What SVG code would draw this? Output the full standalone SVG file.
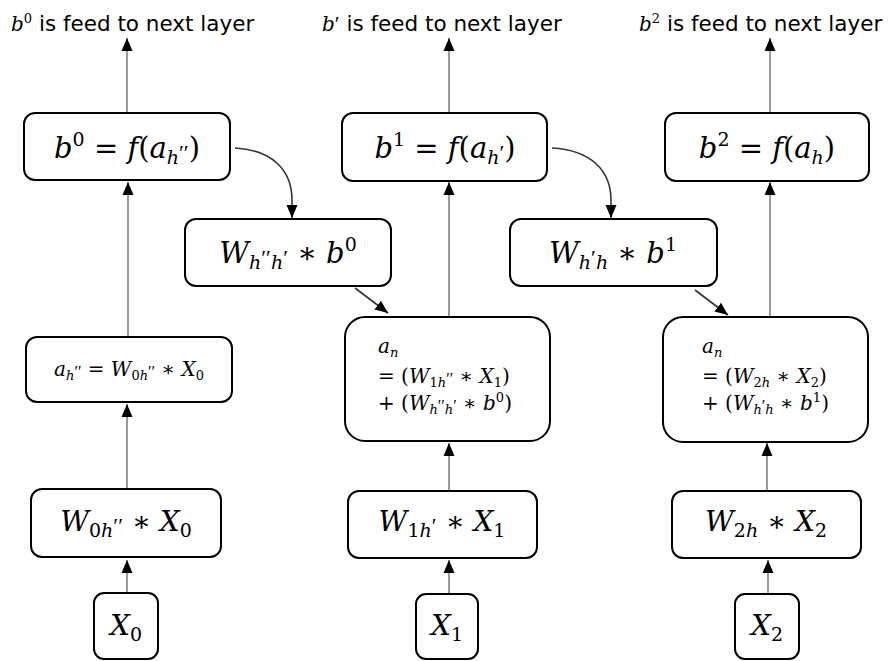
<svg xmlns="http://www.w3.org/2000/svg" width="894" height="661" viewBox="0 0 894 661">
<defs>
<marker id="ah" markerUnits="userSpaceOnUse" markerWidth="14" markerHeight="14" viewBox="0 0 14 14" refX="13" refY="7" orient="auto">
<path d="M0,1.5 L13,7 L0,12.5 Z" fill="#000"/>
</marker>
</defs>
<style>
rect.box{fill:#fff;stroke:#000;stroke-width:2}
.conn line,.conn path{stroke:#7f7f7f;stroke-width:1.6;fill:none;marker-end:url(#ah)}
.conn .dark{stroke:#333}
.m{font-family:"DejaVu Serif","Liberation Serif",serif;fill:#000}
.i{font-style:italic}
.pr{font-family:"Liberation Serif",serif}
.lbl{font-family:"DejaVu Sans","Verdana",sans-serif;font-size:21.5px;fill:#000}
</style>
<rect width="894" height="661" fill="#fff"/>

<g id="label0"><text x="11" y="31"><tspan class="m i" font-size="20">b</tspan><tspan class="m" font-size="13" dy="-8">0</tspan><tspan class="lbl" dy="8"> is feed to next layer</tspan></text></g>
<g id="label1"><text x="322" y="31"><tspan class="m i" font-size="20">b</tspan><tspan class="m pr" font-size="22">′</tspan><tspan class="lbl"> is feed to next layer</tspan></text></g>
<g id="label2"><text x="639" y="31"><tspan class="m i" font-size="20">b</tspan><tspan class="m" font-size="13" dy="-8">2</tspan><tspan class="lbl" dy="8"> is feed to next layer</tspan></text></g>

<g class="conn">
<line x1="127" y1="113" x2="127" y2="38"/>
<line x1="128" y1="337" x2="128" y2="182"/>
<line x1="127" y1="489" x2="127" y2="404"/>
<line x1="127" y1="593" x2="127" y2="560"/>
<path class="dark" d="M235,148 C272,150 292,170 292,200 L292,218"/>
<line class="dark" x1="355" y1="288" x2="388" y2="313"/>
<line x1="449" y1="113" x2="449" y2="38"/>
<line x1="449" y1="317" x2="449" y2="182"/>
<line x1="449" y1="491" x2="449" y2="443"/>
<line x1="449" y1="594" x2="449" y2="560"/>
<path class="dark" d="M552,148 C590,150 611,170 611,200 L611,218"/>
<line class="dark" x1="695" y1="290" x2="728" y2="315"/>
<line x1="770" y1="113" x2="770" y2="38"/>
<line x1="770" y1="317" x2="770" y2="182"/>
<line x1="767" y1="491" x2="767" y2="443"/>
<line x1="768" y1="594" x2="768" y2="560"/>
</g>

<g id="b0">
<rect class="box" x="24" y="113" width="206" height="67" rx="11"/>
<text class="m" x="127" y="158" text-anchor="middle" font-size="29"><tspan class="i">b</tspan><tspan font-size="19" dy="-12">0</tspan><tspan dy="12"> = </tspan><tspan class="i">f</tspan>(<tspan class="i">a</tspan><tspan class="i" font-size="19" dy="6">h</tspan><tspan class="pr" font-size="22" dy="-4">′′</tspan><tspan dy="-2">)</tspan></text>
</g>
<g id="ah2">
<rect class="box" x="26" y="337" width="206" height="65" rx="11"/>
<text class="m" x="129" y="376" text-anchor="middle" font-size="20"><tspan class="i">a</tspan><tspan class="i" font-size="13" dy="4">h</tspan><tspan class="pr" font-size="16" dy="-3">′′</tspan><tspan dy="-1"> = </tspan><tspan class="i">W</tspan><tspan font-size="13" dy="4">0</tspan><tspan class="i" font-size="13">h</tspan><tspan class="pr" font-size="16" dy="-3">′′</tspan><tspan dy="-1"> ∗ </tspan><tspan class="i">X</tspan><tspan font-size="13" dy="4">0</tspan></text>
</g>
<g id="w0">
<rect class="box" x="31" y="489" width="190" height="68" rx="11"/>
<text class="m" x="126" y="531" text-anchor="middle" font-size="28"><tspan class="i">W</tspan><tspan font-size="19" dy="6">0</tspan><tspan class="i" font-size="19">h</tspan><tspan class="pr" font-size="22" dy="-4">′′</tspan><tspan dy="-2"> ∗ </tspan><tspan class="i">X</tspan><tspan font-size="19" dy="6">0</tspan></text>
</g>
<g id="x0">
<rect class="box" x="94" y="593" width="64" height="66" rx="10"/>
<text class="m" x="126" y="635" text-anchor="middle" font-size="28"><tspan class="i">X</tspan><tspan font-size="19" dy="6">0</tspan></text>
</g>

<g id="whh">
<rect class="box" x="185" y="219" width="206" height="67" rx="11"/>
<text class="m" x="288" y="263" text-anchor="middle" font-size="29"><tspan class="i">W</tspan><tspan class="i" font-size="19" dy="6">h</tspan><tspan class="pr" font-size="22" dy="-4">′′</tspan><tspan class="i" font-size="19" dy="4">h</tspan><tspan class="pr" font-size="22" dy="-4">′</tspan><tspan dy="-2"> ∗ </tspan><tspan class="i">b</tspan><tspan font-size="19" dy="-12">0</tspan></text>
</g>
<g id="b1">
<rect class="box" x="342" y="113" width="205" height="68" rx="11"/>
<text class="m" x="445" y="158" text-anchor="middle" font-size="29"><tspan class="i">b</tspan><tspan font-size="19" dy="-12">1</tspan><tspan dy="12"> = </tspan><tspan class="i">f</tspan>(<tspan class="i">a</tspan><tspan class="i" font-size="19" dy="6">h</tspan><tspan class="pr" font-size="22" dy="-4">′</tspan><tspan dy="-2">)</tspan></text>
</g>
<g id="an1">
<rect class="box" x="345" y="317" width="205" height="124" rx="20"/>
<text class="m" font-size="20"><tspan x="378" y="353" class="i">a</tspan><tspan class="i" font-size="13" dy="4">n</tspan><tspan x="378" y="383">= (</tspan><tspan class="i">W</tspan><tspan font-size="13" dy="4">1</tspan><tspan class="i" font-size="13">h</tspan><tspan class="pr" font-size="16" dy="-3">′′</tspan><tspan dy="-1"> ∗ </tspan><tspan class="i">X</tspan><tspan font-size="13" dy="4">1</tspan><tspan dy="-4">)</tspan><tspan x="378" y="410">+ (</tspan><tspan class="i">W</tspan><tspan class="i" font-size="13" dy="4">h</tspan><tspan class="pr" font-size="16" dy="-3">′′</tspan><tspan class="i" font-size="13" dy="3">h</tspan><tspan class="pr" font-size="16" dy="-3">′</tspan><tspan dy="-1"> ∗ </tspan><tspan class="i">b</tspan><tspan font-size="13" dy="-8">0</tspan><tspan dy="8">)</tspan></text>
</g>
<g id="w1">
<rect class="box" x="348" y="491" width="189" height="67" rx="11"/>
<text class="m" x="442" y="531" text-anchor="middle" font-size="28"><tspan class="i">W</tspan><tspan font-size="19" dy="6">1</tspan><tspan class="i" font-size="19">h</tspan><tspan class="pr" font-size="22" dy="-4">′</tspan><tspan dy="-2"> ∗ </tspan><tspan class="i">X</tspan><tspan font-size="19" dy="6">1</tspan></text>
</g>
<g id="x1">
<rect class="box" x="416" y="594" width="62" height="65" rx="10"/>
<text class="m" x="447" y="635" text-anchor="middle" font-size="28"><tspan class="i">X</tspan><tspan font-size="19" dy="6">1</tspan></text>
</g>

<g id="wh">
<rect class="box" x="510" y="219" width="207" height="67" rx="11"/>
<text class="m" x="613" y="263" text-anchor="middle" font-size="29"><tspan class="i">W</tspan><tspan class="i" font-size="19" dy="6">h</tspan><tspan class="pr" font-size="22" dy="-4">′</tspan><tspan class="i" font-size="19" dy="4">h</tspan><tspan dy="-6"> ∗ </tspan><tspan class="i">b</tspan><tspan font-size="19" dy="-12">1</tspan></text>
</g>
<g id="b2">
<rect class="box" x="665" y="113" width="204" height="68" rx="11"/>
<text class="m" x="767" y="158" text-anchor="middle" font-size="29"><tspan class="i">b</tspan><tspan font-size="19" dy="-12">2</tspan><tspan dy="12"> = </tspan><tspan class="i">f</tspan>(<tspan class="i">a</tspan><tspan class="i" font-size="19" dy="6">h</tspan><tspan dy="-6">)</tspan></text>
</g>
<g id="an2">
<rect class="box" x="663" y="317" width="205" height="125" rx="20"/>
<text class="m" font-size="20"><tspan x="702" y="353" class="i">a</tspan><tspan class="i" font-size="13" dy="4">n</tspan><tspan x="702" y="383">= (</tspan><tspan class="i">W</tspan><tspan font-size="13" dy="4">2</tspan><tspan class="i" font-size="13">h</tspan><tspan dy="-4"> ∗ </tspan><tspan class="i">X</tspan><tspan font-size="13" dy="4">2</tspan><tspan dy="-4">)</tspan><tspan x="702" y="410">+ (</tspan><tspan class="i">W</tspan><tspan class="i" font-size="13" dy="4">h</tspan><tspan class="pr" font-size="16" dy="-3">′</tspan><tspan class="i" font-size="13" dy="3">h</tspan><tspan dy="-4"> ∗ </tspan><tspan class="i">b</tspan><tspan font-size="13" dy="-8">1</tspan><tspan dy="8">)</tspan></text>
</g>
<g id="w2">
<rect class="box" x="672" y="491" width="189" height="67" rx="11"/>
<text class="m" x="766" y="531" text-anchor="middle" font-size="28"><tspan class="i">W</tspan><tspan font-size="19" dy="6">2</tspan><tspan class="i" font-size="19">h</tspan><tspan dy="-6"> ∗ </tspan><tspan class="i">X</tspan><tspan font-size="19" dy="6">2</tspan></text>
</g>
<g id="x2">
<rect class="box" x="735" y="594" width="64" height="65" rx="10"/>
<text class="m" x="767" y="635" text-anchor="middle" font-size="28"><tspan class="i">X</tspan><tspan font-size="19" dy="6">2</tspan></text>
</g>
</svg>
